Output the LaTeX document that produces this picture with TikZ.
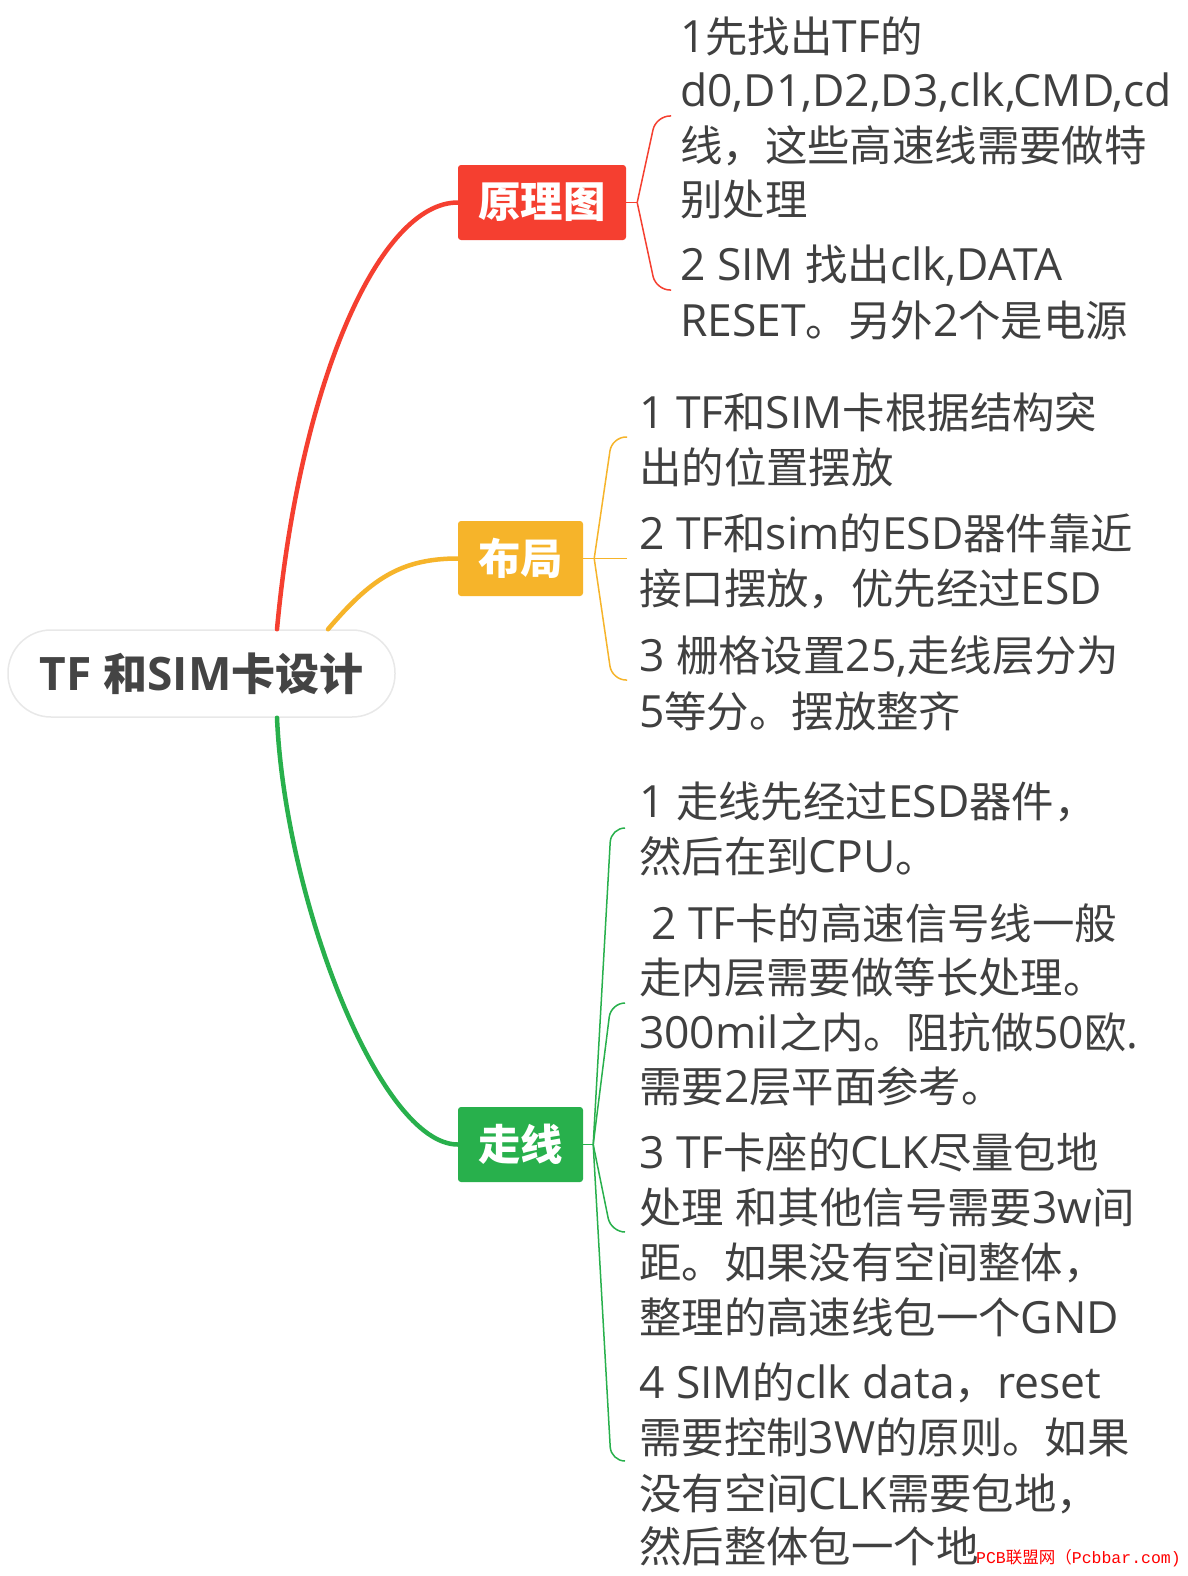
\documentclass[tikz,border=0pt]{standalone}
\usepackage{fontspec}
\setmainfont{Open Sans}[Scale=1.047]
\newfontfamily\cjkfam{Noto Sans CJK SC}
\newfontfamily\wmmono{Liberation Mono}
\XeTeXinterchartokenstate=1
\newXeTeXintercharclass\cjkcls
\count255="3000
\loop\XeTeXcharclass\count255=\cjkcls\relax\ifnum\count255<"303F \advance\count255 by 1 \repeat
\count255="4E00
\loop\XeTeXcharclass\count255=\cjkcls\relax\ifnum\count255<"9FFF \advance\count255 by 1 \repeat
\count255="FF00
\loop\XeTeXcharclass\count255=\cjkcls\relax\ifnum\count255<"FFEF \advance\count255 by 1 \repeat
\XeTeXinterchartoks 0 \cjkcls = {\cjkfam}
\XeTeXinterchartoks 4095 \cjkcls = {\cjkfam}
\XeTeXinterchartoks \cjkcls 0 = {\rmfamily}
\XeTeXinterchartoks \cjkcls 4095 = {\rmfamily}
\usetikzlibrary{calc}
\definecolor{cred}{RGB}{245,63,48}
\definecolor{cyel}{RGB}{246,180,42}
\definecolor{cgrn}{RGB}{40,176,76}
\definecolor{ctxt}{RGB}{64,64,64}
\definecolor{croot}{RGB}{68,68,68}
\tikzset{
  topic/.style={rounded corners=3pt, inner sep=0pt, minimum height=75pt, text=white,
    font=\fontsize{42.4}{50}\selectfont\bfseries},
  item/.style={anchor=base west, inner sep=0pt, text=ctxt, font=\fontsize{42.4}{54}\selectfont},
  branch/.style={line width=4.5pt, line cap=round},
  stub/.style={line width=1.6pt},
  bracearm/.style={line width=1.5pt, rounded corners=14pt},
}
\begin{document}
\begin{tikzpicture}[x=1pt,y=-1pt]
\useasboundingbox[fill=white] (0,0) rectangle (1187,1576);

% topics
\node[rounded corners=43pt, fill=white, draw=black!9, line width=1.5pt,
      minimum width=387pt, minimum height=87pt, inner sep=0pt, text=croot,
      font=\fontsize{44}{50}\selectfont\bfseries] (root) at (201.5,673.5) {TF 和SIM卡设计};
\node[topic, fill=cred, minimum width=168pt] (yl) at (542,202.5) {原理图};
\node[topic, fill=cyel, minimum width=125pt] (bj) at (520.5,558.5) {布局};
\node[topic, fill=cgrn, minimum width=125pt] (zx) at (520.5,1144.5) {走线};

% main branches
\draw[branch, cred] ([xshift=75.5pt]root.north) .. controls (300,380) and (380,202.5) .. (yl.west);
\draw[branch, cyel] ([xshift=126.5pt]root.north) .. controls (370,580) and (400,558.5) .. (bj.west);
\draw[branch, cgrn] ([xshift=75.5pt]root.south) .. controls (285,900) and (380,1144.5) .. (zx.west);

% 原理图 children
\node[item] (y1a) at (680,53)  {1先找出TF的};
\node[item] (y1b) at (680,107) {d0,D1,D2,D3,clk,CMD,cd};
\node[item] (y1c) at (680,161) {线，这些高速线需要做特};
\node[item] (y1d) at (680,215) {别处理};
\node[item] (y2a) at (680,280) {2 SIM 找出clk,DATA};
\node[item] (y2b) at (680,336) {RESET。另外2个是电源};

% 布局 children
\node[item] (b1a) at (639,428) {1 TF和SIM卡根据结构突};
\node[item] (b1b) at (639,483) {出的位置摆放};
\node[item] (b2a) at (639,549) {2 TF和sim的ESD器件靠近};
\node[item] (b2b) at (639,604) {接口摆放，优先经过ESD};
\node[item] (b3a) at (639,671) {3 栅格设置25,走线层分为};
\node[item] (b3b) at (639,727) {5等分。摆放整齐};

% 走线 children
\node[item] (z1a) at (639,817)  {1 走线先经过ESD器件，};
\node[item] (z1b) at (639,872)  {然后在到CPU。};
\node[item] (z2a) at (651,939)  {2 TF卡的高速信号线一般};
\node[item] (z2b) at (639,993)  {走内层需要做等长处理。};
\node[item] (z2c) at (639,1048) {300mil之内。阻抗做50欧.};
\node[item] (z2d) at (639,1102) {需要2层平面参考。};
\node[item] (z3a) at (639,1168) {3 TF卡座的CLK尽量包地};
\node[item] (z3b) at (639,1223) {处理 和其他信号需要3w间};
\node[item] (z3c) at (639,1278) {距。如果没有空间整体，};
\node[item] (z3d) at (639,1333) {整理的高速线包一个GND};
\node[item] (z4a) at (639,1398) {4 SIM的clk data，reset};
\node[item] (z4b) at (639,1453) {需要控制3W的原则。如果};
\node[item] (z4c) at (639,1509) {没有空间CLK需要包地，};
\node[item] (z4d) at (639,1562) {然后整体包一个地};

% watermark
\node[anchor=east, inner sep=0pt, text=red, font=\fontsize{16.5}{20}\selectfont] (wm) at (1181,1558)
  {\XeTeXinterchartokenstate=0 \wmmono PCB\cjkfam 联盟网（\wmmono Pcbbar.com)};

% brackets: 原理图
\coordinate (yl-j) at ([xshift=11pt]yl.east);
\coordinate (yl-e1) at (671,116);
\coordinate (yl-e2) at (671,290);
\draw[stub, cred] (yl.east) -- (yl-j);
\draw[bracearm, cred] (yl-j) -- (656,116) -- (yl-e1);
\draw[bracearm, cred] (yl-j) -- (656,290) -- (yl-e2);

% brackets: 布局
\coordinate (bj-j) at ([xshift=11pt]bj.east);
\coordinate (bj-e1) at (627,437);
\coordinate (bj-e2) at (627,558.5);
\coordinate (bj-e3) at (627,680);
\draw[stub, cyel] (bj.east) -- (bj-j);
\draw[bracearm, cyel] (bj-j) -- (612,437) -- (bj-e1);
\draw[bracearm, cyel] (bj-j) -- (bj-e2);
\draw[bracearm, cyel] (bj-j) -- (612,680) -- (bj-e3);

% brackets: 走线
\coordinate (zx-j) at ([xshift=10pt]zx.east);
\coordinate (zx-e1) at (625,828);
\coordinate (zx-e2) at (625,1003);
\coordinate (zx-e3) at (625,1232);
\coordinate (zx-e4) at (625,1461);
\draw[stub, cgrn] (zx.east) -- (zx-j);
\draw[bracearm, cgrn] (zx-j) -- (611,828) -- (zx-e1);
\draw[bracearm, cgrn] (zx-j) -- (611,1003) -- (zx-e2);
\draw[bracearm, cgrn] (zx-j) -- (611,1232) -- (zx-e3);
\draw[bracearm, cgrn] (zx-j) -- (611,1461) -- (zx-e4);
\end{tikzpicture}
\end{document}
